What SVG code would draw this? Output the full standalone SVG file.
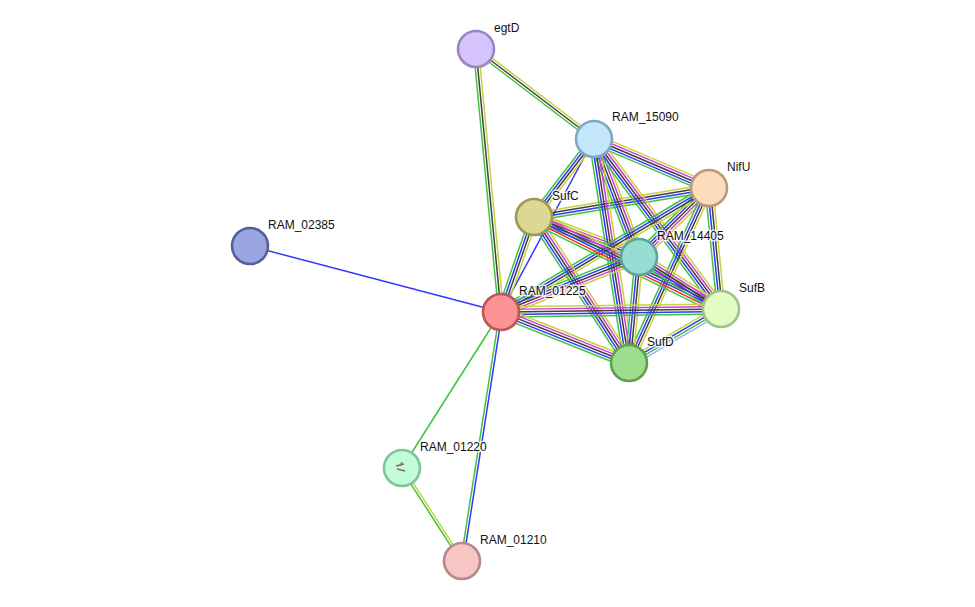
<svg xmlns="http://www.w3.org/2000/svg" width="975" height="607" viewBox="0 0 975 607">
<style>
line{stroke-width:1.3;fill:none}
.g{stroke:#3ec43e}.r{stroke:#ff2a2a}.b{stroke:#3535ff}.k{stroke:#404040}.m{stroke:#d43ad4}.y{stroke:#c4d43e}.h{stroke:#a8a8ff}
circle{stroke-width:2.6}
text{font-family:"Liberation Sans",Arial,sans-serif;font-size:12px;fill:#111;stroke:#fff;stroke-width:3;stroke-opacity:0.8;paint-order:stroke;stroke-linejoin:round}
</style>
<rect width="975" height="607" fill="#fff"/>
<g id="edges">
<line class="b" x1="250" y1="246" x2="501" y2="312" style="stroke-width:1.5"/>
<line class="g" x1="501" y1="312" x2="402" y2="468" style="stroke-width:1.5"/>
<line class="b" x1="594" y1="139" x2="501" y2="312" style="stroke-width:1.5"/>
<g transform="translate(476 49) rotate(84.57) scale(1 1.15)"><line class="y" x2="264.2" y1="-2.2" y2="-2.2"/><line class="k" x2="264.2"/><line class="g" x2="264.2" y1="2.2" y2="2.2"/></g>
<g transform="translate(476 49) rotate(37.33) scale(1 1.15)"><line class="y" x2="148.4" y1="-2.2" y2="-2.2"/><line class="k" x2="148.4"/><line class="g" x2="148.4" y1="2.2" y2="2.2"/></g>
<g transform="translate(501 312) rotate(98.9) scale(1 1.15)"><line class="b" x2="252" y1="-1.1" y2="-1.1"/><line class="g" x2="252" y1="1.1" y2="1.1"/></g>
<g transform="translate(402 468) rotate(57.17) scale(1 1.15)"><line class="y" x2="110.7" y1="-1.1" y2="-1.1"/><line class="g" x2="110.7" y1="1.1" y2="1.1"/></g>
<g transform="translate(594 139) rotate(23.08) scale(1 1.15)"><line class="y" x2="125" y1="-4.4" y2="-4.4"/><line class="m" x2="125" y1="-2.2" y2="-2.2"/><line class="k" x2="125"/><line class="b" x2="125" y1="2.2" y2="2.2"/><line class="g" x2="125" y1="4.4" y2="4.4"/></g>
<g transform="translate(594 139) rotate(127.57) scale(1 1.15)"><line class="y" x2="98.4" y1="-3.3" y2="-3.3"/><line class="k" x2="98.4" y1="-1.1" y2="-1.1"/><line class="b" x2="98.4" y1="1.1" y2="1.1"/><line class="g" x2="98.4" y1="3.3" y2="3.3"/></g>
<g transform="translate(534 217) rotate(109.15) scale(1 1.15)"><line class="y" x2="100.6" y1="-3.3" y2="-3.3"/><line class="k" x2="100.6" y1="-1.1" y2="-1.1"/><line class="b" x2="100.6" y1="1.1" y2="1.1"/><line class="g" x2="100.6" y1="3.3" y2="3.3"/></g>
<g transform="translate(534 217) rotate(-9.41) scale(1 1.15)"><line class="y" x2="177.4" y1="-3.3" y2="-3.3"/><line class="k" x2="177.4" y1="-1.1" y2="-1.1"/><line class="b" x2="177.4" y1="1.1" y2="1.1"/><line class="g" x2="177.4" y1="3.3" y2="3.3"/></g>
<g transform="translate(534 217) rotate(20.85) scale(1 1.15)"><line class="y" x2="112.4" y1="-4.4" y2="-4.4"/><line class="m" x2="112.4" y1="-2.2" y2="-2.2"/><line class="k" x2="112.4"/><line class="b" x2="112.4" y1="2.2" y2="2.2"/><line class="g" x2="112.4" y1="4.4" y2="4.4"/></g>
<g transform="translate(594 139) rotate(69.13) scale(1 1.15)"><line class="y" x2="126.3" y1="-4.4" y2="-4.4"/><line class="m" x2="126.3" y1="-2.2" y2="-2.2"/><line class="k" x2="126.3"/><line class="b" x2="126.3" y1="2.2" y2="2.2"/><line class="g" x2="126.3" y1="4.4" y2="4.4"/></g>
<g transform="translate(594 139) rotate(81.12) scale(1 1.15)"><line class="y" x2="226.7" y1="-4.4" y2="-4.4"/><line class="m" x2="226.7" y1="-2.2" y2="-2.2"/><line class="k" x2="226.7"/><line class="b" x2="226.7" y1="2.2" y2="2.2"/><line class="g" x2="226.7" y1="4.4" y2="4.4"/></g>
<g transform="translate(594 139) rotate(53.24) scale(1 1.15)"><line class="y" x2="212.2" y1="-4.4" y2="-4.4"/><line class="m" x2="212.2" y1="-2.2" y2="-2.2"/><line class="k" x2="212.2"/><line class="b" x2="212.2" y1="2.2" y2="2.2"/><line class="g" x2="212.2" y1="4.4" y2="4.4"/></g>
<g transform="translate(709 188) rotate(135.41) scale(1 1.15)"><line class="y" x2="98.3" y1="-4.4" y2="-4.4"/><line class="m" x2="98.3" y1="-2.2" y2="-2.2"/><line class="k" x2="98.3"/><line class="b" x2="98.3" y1="2.2" y2="2.2"/><line class="g" x2="98.3" y1="4.4" y2="4.4"/></g>
<g transform="translate(709 188) rotate(149.2) scale(1 1.15)"><line class="y" x2="242.2" y1="-3.3" y2="-3.3"/><line class="k" x2="242.2" y1="-1.1" y2="-1.1"/><line class="b" x2="242.2" y1="1.1" y2="1.1"/><line class="g" x2="242.2" y1="3.3" y2="3.3"/></g>
<g transform="translate(709 188) rotate(84.34) scale(1 1.15)"><line class="y" x2="121.6" y1="-3.3" y2="-3.3"/><line class="k" x2="121.6" y1="-1.1" y2="-1.1"/><line class="b" x2="121.6" y1="1.1" y2="1.1"/><line class="g" x2="121.6" y1="3.3" y2="3.3"/></g>
<g transform="translate(709 188) rotate(114.57) scale(1 1.15)"><line class="y" x2="192.4" y1="-3.3" y2="-3.3"/><line class="k" x2="192.4" y1="-1.1" y2="-1.1"/><line class="b" x2="192.4" y1="1.1" y2="1.1"/><line class="g" x2="192.4" y1="3.3" y2="3.3"/></g>
<g transform="translate(534 217) rotate(56.95) scale(1 1.15)"><line class="y" x2="174.2" y1="-4.4" y2="-4.4"/><line class="m" x2="174.2" y1="-2.2" y2="-2.2"/><line class="k" x2="174.2"/><line class="b" x2="174.2" y1="2.2" y2="2.2"/><line class="g" x2="174.2" y1="4.4" y2="4.4"/></g>
<g transform="translate(534 217) rotate(26.2) scale(1 1.15)"><line class="y" x2="208.4" y1="-5.5" y2="-5.5"/><line class="m" x2="208.4" y1="-3.3" y2="-3.3"/><line class="k" x2="208.4" y1="-1.1" y2="-1.1"/><line class="b" x2="208.4" y1="1.1" y2="1.1"/><line class="r" x2="208.4" y1="3.3" y2="3.3"/><line class="g" x2="208.4" y1="5.5" y2="5.5"/></g>
<g transform="translate(639 257) rotate(158.27) scale(1 1.15)"><line class="y" x2="148.6" y1="-4.4" y2="-4.4"/><line class="m" x2="148.6" y1="-2.2" y2="-2.2"/><line class="k" x2="148.6"/><line class="b" x2="148.6" y1="2.2" y2="2.2"/><line class="g" x2="148.6" y1="4.4" y2="4.4"/></g>
<g transform="translate(639 257) rotate(32.38) scale(1 1.15)"><line class="y" x2="97.1" y1="-4.4" y2="-4.4"/><line class="m" x2="97.1" y1="-2.2" y2="-2.2"/><line class="k" x2="97.1"/><line class="b" x2="97.1" y1="2.2" y2="2.2"/><line class="g" x2="97.1" y1="4.4" y2="4.4"/></g>
<g transform="translate(639 257) rotate(95.39) scale(1 1.15)"><line class="y" x2="106.5" y1="-3.3" y2="-3.3"/><line class="k" x2="106.5" y1="-1.1" y2="-1.1"/><line class="b" x2="106.5" y1="1.1" y2="1.1"/><line class="g" x2="106.5" y1="3.3" y2="3.3"/></g>
<g transform="translate(501 312) rotate(-0.78) scale(1 1.15)"><line class="y" x2="220" y1="-4.4" y2="-4.4"/><line class="m" x2="220" y1="-2.2" y2="-2.2"/><line class="k" x2="220"/><line class="b" x2="220" y1="2.2" y2="2.2"/><line class="g" x2="220" y1="4.4" y2="4.4"/></g>
<g transform="translate(501 312) rotate(21.72) scale(1 1.15)"><line class="y" x2="137.8" y1="-4.4" y2="-4.4"/><line class="m" x2="137.8" y1="-2.2" y2="-2.2"/><line class="k" x2="137.8"/><line class="b" x2="137.8" y1="2.2" y2="2.2"/><line class="g" x2="137.8" y1="4.4" y2="4.4"/></g>
<g transform="translate(721 309) rotate(149.59) scale(1 1.15)"><line class="h" x2="106.7" y1="-3.3" y2="-3.3"/><line class="g" x2="106.7" y1="-1.1" y2="-1.1"/><line class="b" x2="106.7" y1="1.1" y2="1.1"/><line class="y" x2="106.7" y1="3.3" y2="3.3"/></g>
</g>
<g id="egtD"><circle cx="476" cy="49" r="18" fill="#d5c5fc" stroke="#9a86c6"/><text x="494" y="32">egtD</text></g>
<g id="RAM_15090"><circle cx="594" cy="139" r="18" fill="#c3e6fb" stroke="#7fa8c2"/><text x="612" y="121">RAM_15090</text></g>
<g id="NifU"><circle cx="709" cy="188" r="18" fill="#fddcbe" stroke="#b9997c"/><text x="727" y="171">NifU</text></g>
<g id="SufC"><circle cx="534" cy="217" r="18" fill="#dcd893" stroke="#9c9856"/><text x="552" y="200">SufC</text></g>
<g id="RAM_14405"><circle cx="639" cy="257" r="18" fill="#98ddd3" stroke="#5fa39a"/><text x="657" y="240">RAM_14405</text></g>
<g id="RAM_02385"><circle cx="250" cy="246" r="18" fill="#9aa6e0" stroke="#56609c"/><text x="268" y="229">RAM_02385</text></g>
<g id="RAM_01225"><circle cx="501" cy="312" r="18" fill="#fc9496" stroke="#c05456"/><text x="519" y="295">RAM_01225</text></g>
<g id="SufB"><circle cx="721" cy="309" r="18" fill="#e2fcc5" stroke="#a3c28a"/><text x="739" y="292">SufB</text></g>
<g id="SufD"><circle cx="629" cy="363" r="18" fill="#9edc8e" stroke="#5fa150"/><text x="647" y="346">SufD</text></g>
<g id="RAM_01220"><circle cx="402" cy="468" r="18" fill="#c3fcd9" stroke="#80c49c"/><path d="M396 466 L404 464 M397 469 L405 471 M402 462 L400 466" stroke="#8a6a4a" stroke-width="1.3" fill="none"/><text x="420" y="451">RAM_01220</text></g>
<g id="RAM_01210"><circle cx="462" cy="561" r="18" fill="#f8c5c5" stroke="#b78888"/><text x="480" y="544">RAM_01210</text></g>
</svg>
